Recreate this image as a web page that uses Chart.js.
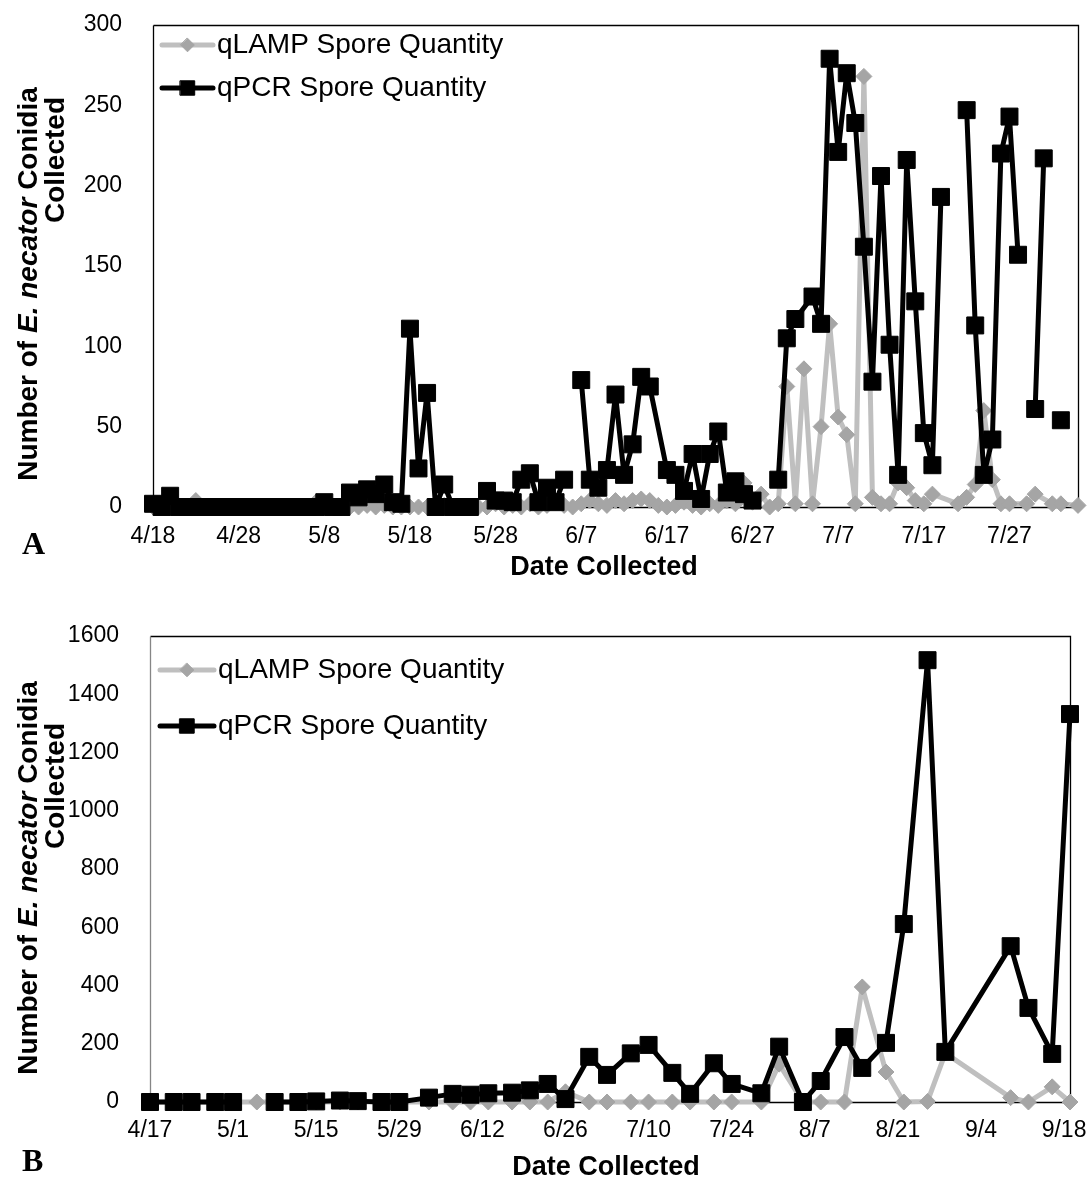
<!DOCTYPE html>
<html>
<head>
<meta charset="utf-8">
<title>E. necator conidia</title>
<script src="https://cdn.jsdelivr.net/npm/chart.js@4.4.1/dist/chart.umd.min.js"></script>
<style>
  body { margin: 0; background: #fff; }
  #page { position: relative; width: 1088px; height: 1183px; overflow: hidden; font-family: Arial, "Liberation Sans", sans-serif; color: #000; }
  canvas { position: absolute; left: 0; }
  .lbl { position: absolute; white-space: nowrap; font-weight: bold; line-height: 32px; text-align: center; }
  .ytitle { width: 600px; height: 32px; font-size: 28px; transform: rotate(-90deg); transform-origin: center center; }
  .xtitle { width: 400px; font-size: 27px; }
  .panel { position: absolute; font-family: "Liberation Serif", "Times New Roman", serif; font-weight: bold; font-size: 32px; line-height: 36px; }
</style>
</head>
<body>
<div id="page">
  <canvas id="graphiqueA" width="1148" height="610" style="top:-20px"></canvas>
  <canvas id="graphiqueB" width="1148" height="623" style="top:560px"></canvas>

  <div class="lbl ytitle" style="left:-272px; top:268px;">Number of <i>E. necator</i> Conidia</div>
  <div class="lbl ytitle" style="left:-245px; top:144px;">Collected</div>
  <div class="lbl xtitle" style="left:404px; top:550px;">Date Collected</div>
  <div class="panel" style="left:22px; top:525px;">A</div>

  <div class="lbl ytitle" style="left:-272px; top:862px;">Number of <i>E. necator</i> Conidia</div>
  <div class="lbl ytitle" style="left:-245px; top:770px;">Collected</div>
  <div class="lbl xtitle" style="left:406px; top:1150px;">Date Collected</div>
  <div class="panel" style="left:22px; top:1142px;">B</div>
</div>

<script>
// ---- Panel A : daily counts ----
const tickLabelsA = ["4/18", "4/28", "5/8", "5/18", "5/28", "6/7", "6/17", "6/27", "7/7", "7/17", "7/27"];
const rangeA = ["4/18", "8/4"];

const qlampDatesA = [
  "4/18", "4/19", "4/20", "4/21", "4/22", "4/23", "4/24", "4/25", "4/26", "4/27", "4/28", "4/29", "4/30",
  "5/1", "5/2", "5/3", "5/4", "5/5", "5/6", "5/7", "5/8", "5/9", "5/10", "5/11", "5/12", "5/13", "5/14", "5/15", "5/16",
  "5/17", "5/18", "5/19", "5/20", "5/21", "5/22", "5/23", "5/24", "5/25", "5/26", "5/27", "5/28", "5/29", "5/30", "5/31",
  "6/1", "6/2", "6/3", "6/4", "6/5", "6/6", "6/7", "6/8", "6/9", "6/10", "6/11", "6/12", "6/13", "6/14", "6/15", "6/16",
  "6/17", "6/18", "6/19", "6/20", "6/21", "6/22", "6/23", "6/24", "6/25", "6/26", "6/27", "6/28", "6/29", "6/30",
  "7/1", "7/2", "7/3", "7/4", "7/5", "7/6", "7/7", "7/8", "7/9", "7/10", "7/11", "7/12", "7/13", "7/14", "7/15", "7/16",
  "7/17", "7/18", "7/21", "7/22", "7/23", "7/24", "7/25", "7/26", "7/27", "7/29", "7/30", "8/1", "8/2", "8/4"
];
const qlampA = [
  0, 0, 0, 0, 0, 4, 0, 0, 0, 0, 0, 0, 0,
  0, 0, 0, 0, 0, 0, 3, 0, 0, 0, 0, 0, 1, 0, 1, 0,
  0, 0, 0, 0, 0, 1, 0, 0, 0, 0, 0, 2, 0, 1, 0,
  2, 0, 1, 3, 1, 0, 2, 4, 2, 1, 4, 2, 4, 5, 4, 1,
  0, 1, 3, 1, 0, 2, 1, 4, 2, 15, 3, 8, 0, 2,
  75, 2, 86, 2, 50, 114, 56, 45, 2, 268, 6, 2, 2, 15, 12, 4,
  2, 8, 2, 6, 14, 60, 17, 2, 2, 2, 8, 2, 2, 1
];

const qpcrDatesA = [
  "4/18", "4/19", "4/20", "4/21", "4/22", "4/23", "4/24", "4/25", "4/26", "4/27", "4/28", "4/29", "4/30",
  "5/1", "5/2", "5/3", "5/4", "5/5", "5/6", "5/7", "5/8", "5/9", "5/10", "5/11", "5/12", "5/13", "5/14", "5/15", "5/16",
  "5/17", "5/18", "5/19", "5/20", "5/21", "5/22", "5/23", "5/24", "5/25", "5/26", "5/27", "5/28", "5/29", "5/30", "5/31",
  "6/1", "6/2", "6/3", "6/4", "6/5", "6/6", "6/7", "6/8", "6/9", "6/10", "6/11", "6/12", "6/13", "6/14", "6/15",
  "6/17", "6/18", "6/19", "6/20", "6/21", "6/22", "6/23", "6/24", "6/25", "6/26", "6/27", "6/28", "6/30",
  "7/1", "7/2", "7/4", "7/5", "7/6", "7/7", "7/8", "7/9", "7/10", "7/11", "7/12", "7/13", "7/14", "7/15", "7/16",
  "7/17", "7/18", "7/19", "7/20", "7/22", "7/23", "7/24", "7/25", "7/26", "7/27", "7/28", "7/29", "7/30", "7/31", "8/1", "8/2"
];
const qpcrA = [
  2, 0, 7, 0, 0, 0, 0, 0, 0, 0, 0, 0, 0,
  0, 0, 0, 0, 0, 0, 0, 3, 0, 0, 9, 6, 11, 8, 14, 3,
  2, 111, 24, 71, 0, 14, 0, 0, 0, null, 10, 4, 4, 3, 17,
  21, 3, 12, 3, 17, null, 79, 17, 12, 23, 70, 20, 39, 81, 75,
  23, 20, 10, 33, 5, 33, 47, 9, 16, 8, 4, null, 17,
  105, 117, 131, 114, 279, 221, 270, 239, 162, 78, 206, 101, 20, 216, 128,
  46, 26, 193, null, 247, 113, 20, 42, 220, 243, 157, null, 61, 217, null, 54
];

// ---- Panel B : twice-weekly counts ----
const tickLabelsB = ["4/17", "5/1", "5/15", "5/29", "6/12", "6/26", "7/10", "7/24", "8/7", "8/21", "9/4", "9/18"];
const rangeB = ["4/17", "9/19"];
const datesB = [
  "4/17", "4/21", "4/24", "4/28", "5/1", "5/5", "5/8", "5/12", "5/15", "5/19", "5/22", "5/26", "5/29",
  "6/3", "6/7", "6/10", "6/13", "6/17", "6/20", "6/23", "6/26", "6/30", "7/3", "7/7", "7/10", "7/14", "7/17",
  "7/21", "7/24", "7/29", "8/1", "8/5", "8/8", "8/12", "8/15", "8/19", "8/22", "8/26", "8/29", "9/9", "9/12", "9/16", "9/19"
];
const qlampB = [
  0, 0, 0, 0, 0, 0, 0, 0, 0, 0, 0, 0, 0,
  0, 0, 0, 0, 0, 0, 0, 35, 0, 0, 0, 0, 0, 0,
  0, 0, 0, 130, 0, 0, 0, 395, 103, 0, 2, 168, 15, 0, 52, 0
];
const qpcrB = [
  0, 0, 0, 0, 0, null, 0, 0, 2, 5, 3, 0, 0,
  15, 28, 25, 30, 32, 40, 62, 10, 155, 93, 167, 196, 100, 28,
  133, 62, 30, 190, 0, 72, 223, 117, 203, 611, 1517, 172, 535, 323, 165, 1332
];

// ---- helpers ----
const debutMois = [0, 31, 59, 90, 120, 151, 181, 212, 243, 273, 304, 334];
function jourDe(md) {
  const [m, d] = md.split("/").map(Number);
  return debutMois[m - 1] + d;
}
function etiquette(n) {
  let m = 11;
  while (debutMois[m] >= n) m--;
  return (m + 1) + "/" + (n - debutMois[m]);
}
function points(dates, valeurs) {
  return dates.map((d, i) => ({ x: jourDe(d), y: valeurs[i] }));
}

const styleLamp = {
  borderColor: "#bfbfbf", borderWidth: 5, borderJoinStyle: "round", borderCapStyle: "round",
  pointStyle: "rectRot", pointRadius: 8, pointBackgroundColor: "#a5a5a5", pointBorderColor: "#a5a5a5", pointBorderWidth: 1,
  tension: 0, spanGaps: false, clip: false, order: 2
};
const stylePcr = {
  borderColor: "#000000", borderWidth: 5, borderJoinStyle: "round", borderCapStyle: "round",
  pointStyle: "rect", pointRadius: 12, pointBackgroundColor: "#000000", pointBorderColor: "#000000", pointBorderWidth: 1,
  tension: 0, spanGaps: false, clip: false, order: 1
};

function marqueur(ctx, style, r, x, y) {
  ctx.beginPath();
  if (style === "rect") {
    const s = r * Math.SQRT1_2;
    ctx.rect(x - s, y - s, 2 * s, 2 * s);
  } else {
    ctx.moveTo(x, y - r); ctx.lineTo(x + r, y); ctx.lineTo(x, y + r); ctx.lineTo(x - r, y); ctx.closePath();
  }
  ctx.fill();
  ctx.stroke();
}

// black frame round the plot area
const cadre = {
  id: "cadre",
  beforeDatasetsDraw(chart, args, opts) {
    const a = chart.chartArea, ctx = chart.ctx;
    const l = Math.round(a.left) + 0.5, t = Math.round(a.top) + 0.5;
    const r = Math.round(a.right) + 0.5, b = Math.round(a.bottom) + 0.5;
    ctx.save();
    ctx.lineWidth = 1.3;
    ctx.strokeStyle = "#000";
    ctx.beginPath();
    ctx.moveTo(l, b); ctx.lineTo(r, b); ctx.lineTo(r, t); ctx.lineTo(l, t);
    ctx.stroke();
    ctx.strokeStyle = opts.gauche || "#000";
    ctx.beginPath(); ctx.moveTo(l, t); ctx.lineTo(l, b); ctx.stroke();
    ctx.restore();
  }
};

// legend drawn inside the plot, Excel style (line + marker)
const legendeInterne = {
  id: "legendeInterne",
  afterDatasetsDraw(chart, args, opts) {
    const ctx = chart.ctx;
    ctx.save();
    ctx.font = opts.font;
    ctx.textBaseline = "middle";
    ctx.textAlign = "left";
    chart.data.datasets.forEach((ds, i) => {
      const y = opts.rangs[i];
      ctx.strokeStyle = ds.borderColor;
      ctx.lineWidth = ds.borderWidth;
      ctx.lineCap = "round";
      ctx.beginPath(); ctx.moveTo(opts.x0, y); ctx.lineTo(opts.x1, y); ctx.stroke();
      ctx.fillStyle = ds.pointBackgroundColor;
      ctx.strokeStyle = ds.pointBorderColor;
      ctx.lineWidth = ds.pointBorderWidth;
      marqueur(ctx, ds.pointStyle, ds.pointRadius * (opts.echelle || 1), (opts.x0 + opts.x1) / 2, y);
      ctx.fillStyle = "#000";
      ctx.fillText(ds.label, opts.texteX, y);
    });
    ctx.restore();
  }
};

const policeTicks = { family: "Arial, 'Liberation Sans', sans-serif", size: 23 };
const policeLegende = "28px Arial, 'Liberation Sans', sans-serif";

function echelleX(plage, ticks, hauteur, pad) {
  return {
    type: "linear",
    min: jourDe(plage[0]), max: jourDe(plage[1]),
    grid: { display: false, drawTicks: false }, border: { display: false },
    ticks: { font: policeTicks, color: "#000", padding: pad, maxRotation: 0, autoSkip: false, callback: (v) => etiquette(v) },
    afterBuildTicks: (s) => { s.ticks = ticks.map((t) => ({ value: jourDe(t) })); },
    afterFit: (s) => { s.height = hauteur; }
  };
}
function echelleY(max, pas, largeur) {
  return {
    min: 0, max: max,
    grid: { display: false, drawTicks: false }, border: { display: false },
    ticks: { stepSize: pas, font: policeTicks, color: "#000", padding: 31, callback: (v) => String(v) },
    afterFit: (s) => { s.width = largeur; }
  };
}

function creerGraphique(id, lamp, pcr, options) {
  return new Chart(document.getElementById(id), {
    type: "line",
    data: {
      datasets: [
        Object.assign({ label: "qLAMP Spore Quantity", data: lamp }, styleLamp),
        Object.assign({ label: "qPCR Spore Quantity", data: pcr }, stylePcr)
      ]
    },
    options: Object.assign({
      responsive: false, animation: false, devicePixelRatio: 1,
      events: []
    }, options),
    plugins: [cadre, legendeInterne]
  });
}

// canvas A spans page y -20..590, plot area 25..507, x 153..1078
creerGraphique("graphiqueA", points(qlampDatesA, qlampA), points(qpcrDatesA, qpcrA), {
  layout: { padding: { top: 45, right: 70, left: 0, bottom: 0 } },
  plugins: {
    legend: { display: false }, tooltip: { enabled: false },
    cadre: {},
    legendeInterne: { font: policeLegende, x0: 162, x1: 213, texteX: 217, rangs: [65, 108], echelle: 0.85 }
  },
  scales: { x: echelleX(rangeA, tickLabelsA, 83, 16), y: echelleY(300, 50, 153) }
});

// canvas B spans page y 560..1183, plot area 636..1102, x 150..1070
creerGraphique("graphiqueB", points(datesB, qlampB), points(datesB, qpcrB), {
  layout: { padding: { top: 76, right: 78, left: 0, bottom: 0 } },
  plugins: {
    legend: { display: false }, tooltip: { enabled: false },
    cadre: { gauche: "#868686" },
    legendeInterne: { font: policeLegende, x0: 160, x1: 214, texteX: 218, rangs: [110, 166], echelle: 0.85 }
  },
  scales: { x: echelleX(rangeB, tickLabelsB, 81, 15), y: echelleY(1600, 200, 150) }
});
</script>
</body>
</html>
